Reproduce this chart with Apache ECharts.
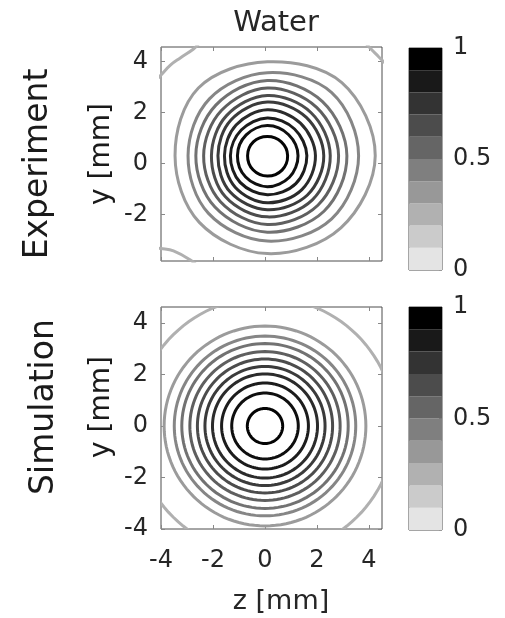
<!DOCTYPE html>
<html><head><meta charset="utf-8">
<script src="https://cdn.jsdelivr.net/npm/echarts@6/dist/echarts.min.js"></script>
<style>html,body{margin:0;padding:0;background:#fff}#c{width:505px;height:618px}</style>
</head><body><div id="c"></div>
<script>
// ---------- data ----------
const xTicks = [-4, -2, 0, 2, 4];
const yTicksExp = [-2, 0, 2, 4];
const yTicksSim = [-4, -2, 0, 2, 4];
const cbTicks = [0, 0.5, 1];
const cbEdges = [0, 0.1, 0.2, 0.3, 0.4, 0.5, 0.6, 0.7, 0.8, 0.9, 1];

// experiment: closed contours, radii (mm) at angles E, NE, N, NW, W, SW, S, SE
const ringAngles = [0, 45, 90, 135, 180, 225, 270, 315];
const expCenter = [0.09, 0.31];
const expLevels = [0.95, 0.86, 0.77, 0.68, 0.59, 0.5, 0.41, 0.32, 0.23, 0.14];
const expR1  = [0.78, 0.76, 0.75, 0.76, 0.76, 0.78, 0.80, 0.80];
const expR2  = [1.18, 1.16, 1.18, 1.15, 1.15, 1.18, 1.22, 1.20];
const expR3  = [1.52, 1.48, 1.48, 1.42, 1.42, 1.48, 1.53, 1.55];
const expR4  = [1.85, 1.80, 1.80, 1.70, 1.65, 1.75, 1.85, 1.88];
const expR5  = [2.17, 2.12, 2.10, 1.98, 1.90, 2.02, 2.12, 2.18];
const expR6  = [2.42, 2.38, 2.36, 2.22, 2.15, 2.28, 2.40, 2.45];
const expR7  = [2.74, 2.68, 2.65, 2.50, 2.45, 2.55, 2.70, 2.75];
const expR8  = [3.06, 3.00, 2.95, 2.80, 2.75, 2.85, 3.00, 3.08];
const expR9  = [3.51, 3.50, 3.25, 3.15, 3.05, 3.20, 3.35, 3.50];
const expR10 = [4.15, 4.05, 3.68, 3.75, 3.55, 3.70, 3.84, 4.00];
// experiment: open contours of the lowest level near the corners (z, y in mm)
const expOpenLevel = 0.05;
const expOpenTL = [[-4.3, 3.15], [-4.0, 3.47], [-3.64, 3.86], [-3.26, 4.14], [-2.75, 4.49], [-2.55, 4.7]];
const expOpenTR = [[3.85, 4.75], [4.05, 4.52], [4.37, 4.19], [4.6, 3.95]];
const expOpenBL = [[-4.3, -3.3], [-4.0, -3.33], [-3.52, -3.42], [-2.87, -3.78], [-2.42, -4.18]];

// simulation: circular contours, radii (mm)
const simCenter = [0, 0];
const simLevels = [0.95, 0.86, 0.77, 0.68, 0.59, 0.5, 0.41, 0.32, 0.23, 0.14, 0.05];
const simRadii  = [0.68, 1.28, 1.67, 2.02, 2.31, 2.60, 2.89, 3.20, 3.49, 3.88, 5.00];

// ---------- drawing ----------
const expRadii = [expR1, expR2, expR3, expR4, expR5, expR6, expR7, expR8, expR9, expR10];
const FONT = 'DejaVu Sans';
const TXT = '#262626';
const BOX = '#4d4d4d';
const LW = 3;
function lineColor(l) { const g = Math.round(188 * Math.pow(1 - l, 1.3)); return `rgb(${g},${g},${g})`; }
function bandColor(m) { const g = Math.max(0, Math.round(228 * (0.95 - m) / 0.9)); return `rgb(${g},${g},${g})`; }

const chart = echarts.init(document.getElementById('c'), null, { renderer: 'canvas' });

const grids = [
  { left: 161, top: 47, width: 221, height: 214 },
  { left: 161, top: 307, width: 221, height: 222 },
  { left: 409, top: 48, width: 33, height: 222 },
  { left: 409, top: 307, width: 33, height: 223 }
].map(g => Object.assign({ show: true, borderColor: BOX, borderWidth: 1, backgroundColor: 'transparent', containLabel: false }, g));

const NOLINE = { show: false, onZero: false };
function tick(vals) { return { show: true, inside: true, length: 4, customValues: vals, lineStyle: { color: '#888', width: 1 } }; }
function xAx(grid, pos, labels) {
  return {
    type: 'value', gridIndex: grid, position: pos, min: -4, max: 4.5,
    axisLine: NOLINE, splitLine: { show: false }, axisTick: tick(xTicks),
    axisLabel: labels ? { show: true, customValues: xTicks, fontSize: 24, fontFamily: FONT, color: TXT, margin: 20 } : { show: false }
  };
}
function yAx(grid, pos, min, max, ticks, labels) {
  return {
    type: 'value', gridIndex: grid, position: pos, min: min, max: max,
    axisLine: NOLINE, splitLine: { show: false }, axisTick: tick(ticks),
    axisLabel: labels ? { show: true, customValues: ticks, fontSize: 24, fontFamily: FONT, color: TXT, margin: 13 } : { show: false }
  };
}

const xAxis = [
  xAx(0, 'bottom', false), xAx(0, 'top', false),
  xAx(1, 'bottom', true), xAx(1, 'top', false),
  { type: 'value', gridIndex: 2, min: 0, max: 1, show: false, axisLine: NOLINE },
  { type: 'value', gridIndex: 3, min: 0, max: 1, show: false, axisLine: NOLINE }
];
const cbY = g => ({
  type: 'value', gridIndex: g, position: 'right', min: 0, max: 1,
  axisLine: NOLINE, splitLine: { show: false },
  axisTick: { show: true, inside: true, length: 3, customValues: cbTicks, lineStyle: { color: '#999' } },
  axisLabel: { show: true, customValues: cbTicks, fontSize: 24, fontFamily: FONT, color: TXT, margin: 11,
    formatter: v => (Math.abs(v - 0.5) < 1e-9 ? '0.5' : String(Math.round(v))) }
});
const yAxis = [
  yAx(0, 'left', -3.82, 4.57, yTicksExp, true), yAx(0, 'right', -3.82, 4.57, yTicksExp, false),
  yAx(1, 'left', -4, 4.62, yTicksSim, true), yAx(1, 'right', -4, 4.62, yTicksSim, false),
  cbY(2), cbY(3)
];

function expRing(params, api) {
  const i = api.value(2);
  const rs = expRadii[i];
  const c = [api.value(0), api.value(1)];
  const pts = ringAngles.map((a, k) => {
    const t = a * Math.PI / 180;
    return api.coord([c[0] + rs[k] * Math.cos(t), c[1] + rs[k] * Math.sin(t)]);
  });
  return { type: 'polygon', shape: { points: pts, smooth: 0.35 },
    style: { fill: 'none', stroke: lineColor(expLevels[i]), lineWidth: LW } };
}
function simRing(params, api) {
  const i = api.value(2);
  const r = simRadii[i];
  const c = [api.value(0), api.value(1)];
  const pts = [];
  for (let k = 0; k < 120; k++) {
    const t = k * 3 * Math.PI / 180;
    pts.push(api.coord([c[0] + r * Math.cos(t), c[1] + r * Math.sin(t)]));
  }
  return { type: 'polygon', shape: { points: pts },
    style: { fill: 'none', stroke: lineColor(simLevels[i]), lineWidth: LW } };
}
function band(params, api) {
  const p0 = api.coord([0, api.value(0)]);
  const p1 = api.coord([1, api.value(1)]);
  return { type: 'rect', shape: { x: p0[0], y: p1[1], width: p1[0] - p0[0], height: p0[1] - p1[1] },
    style: { fill: bandColor((api.value(0) + api.value(1)) / 2), stroke: null } };
}
const bandData = cbEdges.slice(0, -1).map((lo, i) => [lo, cbEdges[i + 1]]);

function openLine(data) {
  return { type: 'line', xAxisIndex: 0, yAxisIndex: 0, data: data, smooth: 0.4, showSymbol: false, clip: true,
    silent: true, lineStyle: { color: lineColor(expOpenLevel), width: LW } };
}

const series = [
  { type: 'custom', xAxisIndex: 0, yAxisIndex: 0, clip: true, silent: true, renderItem: expRing,
    encode: { x: 0, y: 1 }, data: expRadii.map((r, i) => [expCenter[0], expCenter[1], i]) },
  openLine(expOpenTL), openLine(expOpenTR), openLine(expOpenBL),
  { type: 'custom', xAxisIndex: 2, yAxisIndex: 2, clip: true, silent: true, renderItem: simRing,
    encode: { x: 0, y: 1 }, data: simRadii.map((r, i) => [simCenter[0], simCenter[1], i]) },
  { type: 'custom', xAxisIndex: 4, yAxisIndex: 4, silent: true, renderItem: band, encode: { x: -1, y: [0, 1] }, data: bandData, z: 1 },
  { type: 'custom', xAxisIndex: 5, yAxisIndex: 5, silent: true, renderItem: band, encode: { x: -1, y: [0, 1] }, data: bandData, z: 1 }
];

function txt(text, x, y, size, rot) {
  return { type: 'text', x: x, y: y, rotation: rot || 0, silent: true,
    style: { text: text, fontSize: size, fontFamily: FONT, fill: rot ? '#1a1a1a' : TXT, textAlign: 'center', textVerticalAlign: 'middle' } };
}

chart.setOption({
  animation: false,
  backgroundColor: '#fff',
  grid: grids,
  xAxis: xAxis,
  yAxis: yAxis,
  series: series,
  graphic: [
    txt('Water', 276, 23, 29),
    txt('Experiment', 38, 164, 33, Math.PI / 2),
    txt('Simulation', 44, 407, 33, Math.PI / 2),
    txt('y [mm]', 102, 154, 28, Math.PI / 2),
    txt('y [mm]', 102, 407, 28, Math.PI / 2),
    txt('z [mm]', 281, 602, 27)
  ]
});
</script></body></html>
